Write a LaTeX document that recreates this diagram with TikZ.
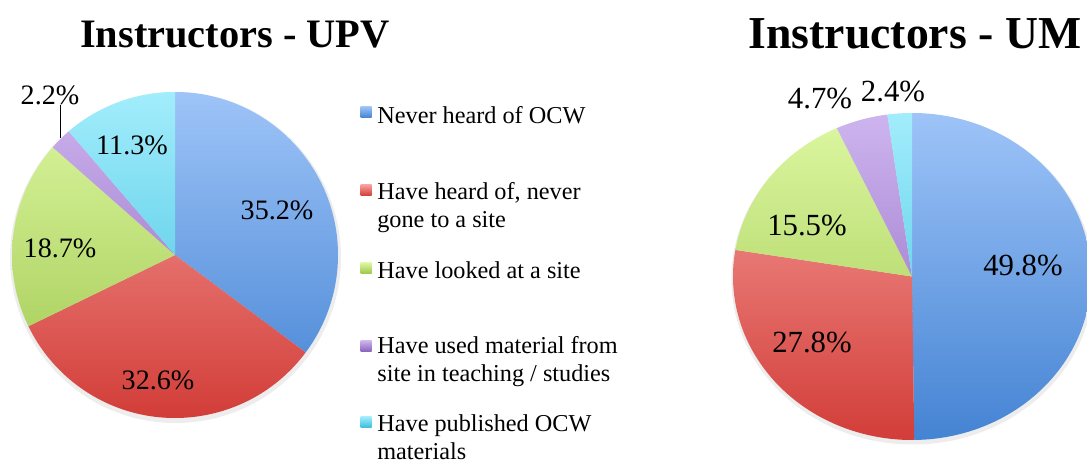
\documentclass[tikz,border=0pt]{standalone}
\usepackage{fontspec}
\setmainfont{Liberation Serif}

% slice colours, light at the top and dark at the bottom
\definecolor{nevertop}{HTML}{9EC4F8}
\definecolor{neverbot}{HTML}{4483D3}
\definecolor{heardtop}{HTML}{F8A29F}
\definecolor{heardbot}{HTML}{D23D38}
\definecolor{lookedtop}{HTML}{DDF8A2}
\definecolor{lookedbot}{HTML}{9FC64E}
\definecolor{usedtop}{HTML}{CEB5EF}
\definecolor{usedbot}{HTML}{8A62BC}
\definecolor{publishedtop}{HTML}{A2EDFC}
\definecolor{publishedbot}{HTML}{3BBEDC}

\tikzset{
  title/.style={font=\bfseries\fontsize{23}{27}\selectfont, inner sep=0pt},
  pct/.style={font=\fontsize{16}{19}\selectfont, inner sep=0pt},
  bigpct/.style={font=\fontsize{17.5}{20}\selectfont, inner sep=0pt},
  key/.style={minimum size=0.22cm, inner sep=0pt},
  keytext/.style={font=\fontsize{13.8}{15.9}\selectfont, align=left, anchor=west, inner sep=0pt}
}

\begin{document}
\begin{tikzpicture}[x=0.02cm, y=0.02cm]
\useasboundingbox (0,0) rectangle (1087,463);

% UPV pie
\fill[black!7] (175.5,205.5) circle (165.5);
\foreach \a/\b/\c in {90/-36.72/never, -36.72/-154.08/heard, -154.08/-221.4/looked,
                      -221.4/-229.32/used, -229.32/-270/published}{
  \begin{scope}
    \clip (175,208) -- ++(\a:163) arc[start angle=\a, end angle=\b, radius=163] -- cycle;
    \shade[top color=\c top, bottom color=\c bot] (12,45) rectangle (338,371);
  \end{scope}
}
\node[title] (upvTitle) at (235,428.5) {Instructors - UPV};
\node[pct] (upvNever) at (277,253) {35.2\%};
\node[pct] (upvHeard) at (158,83) {32.6\%};
\node[pct] (upvLooked) at (60,215) {18.7\%};
\node[pct] (upvPublished) at (132,318) {11.3\%};
\node[pct] (upvUsed) at (50,368) {2.2\%};
\coordinate (upvUsedTip) at (60,325);
\draw[thin] (upvUsedTip) -- (upvUsedTip |- upvUsed.south);

% UM pie, a little wider than tall
\begin{scope}[shift={(912,186.5)}, xscale=1.095]
  \fill[black!7] (0.5,-2.5) circle (165.5);
  \foreach \a/\b/\c in {90/-89.28/never, -89.28/-189.36/heard, -189.36/-245.16/looked,
                        -245.16/-262.08/used, -262.08/-270/published}{
    \begin{scope}
      \clip (0,0) -- (\a:163.5) arc[start angle=\a, end angle=\b, radius=163.5] -- cycle;
      \shade[top color=\c top, bottom color=\c bot] (-164,-164) rectangle (164,164);
    \end{scope}
  }
\end{scope}
\node[title, font=\bfseries\fontsize{26}{30}\selectfont] (umTitle) at (915,429) {Instructors - UM};
\node[bigpct] (umNever) at (1023,198) {49.8\%};
\node[bigpct] (umHeard) at (812,121) {27.8\%};
\node[bigpct] (umLooked) at (807,238) {15.5\%};
\node[bigpct] (umUsed) at (820,365) {4.7\%};
\node[bigpct] (umPublished) at (893,372) {2.4\%};

% legend
\node[key, top color=nevertop, bottom color=neverbot] (keyNever) at (366,351) {};
\node[key, top color=heardtop, bottom color=heardbot] (keyHeard) at (366,273) {};
\node[key, top color=lookedtop, bottom color=lookedbot] (keyLooked) at (366,195) {};
\node[key, top color=usedtop, bottom color=usedbot] (keyUsed) at (366,117) {};
\node[key, top color=publishedtop, bottom color=publishedbot] (keyPublished) at (366,41) {};
\node[keytext] (txtNever) at (377,348) {Never heard of OCW};
\node[keytext] (txtHeard) at (377,255.5) {Have heard of, never\\gone to a site};
\node[keytext] (txtLooked) at (377,193) {Have looked at a site};
\node[keytext] (txtUsed) at (377,101.5) {Have used material from\\site in teaching / studies};
\node[keytext] (txtPublished) at (377,26) {Have published OCW\\materials};

\end{tikzpicture}
\end{document}
